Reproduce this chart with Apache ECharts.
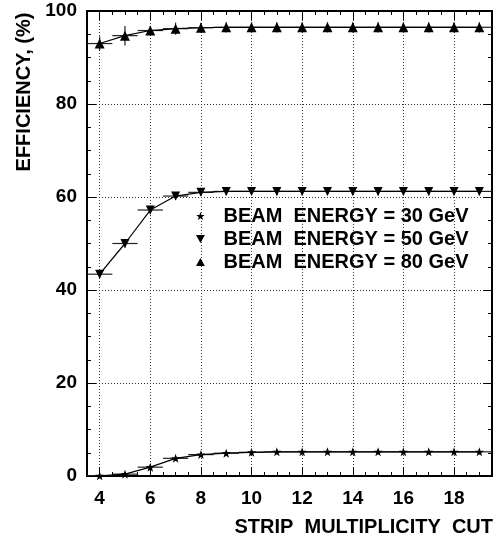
<!DOCTYPE html>
<html>
<head>
<meta charset="utf-8">
<script src="https://cdn.jsdelivr.net/npm/echarts@6/dist/echarts.min.js"></script>
<style>
html,body{margin:0;padding:0;background:#fff;}
#chart{width:497px;height:541px;}
</style>
</head>
<body>
<div id="chart"></div>
<script>
// ---- data ----
const xValues = [4, 5, 6, 7, 8, 9, 10, 11, 12, 13, 14, 15, 16, 17, 18, 19];
const eff30 = [0.05, 0.4, 1.9, 3.8, 4.6, 4.9, 5.1, 5.2, 5.2, 5.2, 5.2, 5.2, 5.2, 5.2, 5.2, 5.2];
const err30 = [0.3, 0.4, 0.5, 0.5, 0.5, 0.5, 0.5, 0.5, 0.5, 0.5, 0.5, 0.5, 0.5, 0.5, 0.5, 0.5];
const eff50 = [43.4, 50.0, 57.2, 60.2, 61.0, 61.2, 61.2, 61.2, 61.2, 61.2, 61.2, 61.2, 61.2, 61.2, 61.2, 61.2];
const err50 = [0.8, 0.9, 0.9, 0.8, 0.8, 0.8, 0.8, 0.8, 0.8, 0.8, 0.8, 0.8, 0.8, 0.8, 0.8, 0.8];
const eff80 = [93.0, 94.7, 95.8, 96.2, 96.4, 96.5, 96.5, 96.5, 96.5, 96.5, 96.5, 96.5, 96.5, 96.5, 96.5, 96.5];
const err80 = [1.5, 2.1, 1.0, 1.3, 1.1, 1.1, 1.1, 1.1, 1.1, 1.1, 1.1, 1.1, 1.1, 1.1, 1.1, 1.1];
const xHalfWidth = 0.5;
const xTickValues = [4, 6, 8, 10, 12, 14, 16, 18];
const seriesNames = ['BEAM  ENERGY = 30 GeV', 'BEAM  ENERGY = 50 GeV', 'BEAM  ENERGY = 80 GeV'];
const xTitle = 'STRIP  MULTIPLICITY  CUT';
const yTitle = 'EFFICIENCY, (%)';

// ---- styling ----
const FONT = '"Liberation Sans", Arial, Helvetica, sans-serif';
const STAR = 'path://M0,-10 L2.35,-3.24 L9.51,-3.09 L3.8,1.24 L5.88,8.09 L0,4 L-5.88,8.09 L-3.8,1.24 L-9.51,-3.09 L-2.35,-3.24 Z';
const TRI_DOWN = 'path://M0,0 L10,0 L5,9 Z';
const TRI_UP = 'path://M5,0 L10,9 L0,9 Z';

function pairs(ys) { return xValues.map((x, i) => [x, ys[i]]); }
function errTriples(ys, es) { return xValues.map((x, i) => [x, ys[i], es[i]]); }

function renderErr(params, api) {
  const x = api.value(0), y = api.value(1), e = api.value(2);
  const a = api.coord([x - xHalfWidth, y]);
  const b = api.coord([x + xHalfWidth, y]);
  const c = api.coord([x, y - e]);
  const d = api.coord([x, y + e]);
  const st = { stroke: '#222', lineWidth: 1.2 };
  return {
    type: 'group',
    children: [
      { type: 'line', shape: { x1: a[0], y1: a[1], x2: b[0], y2: b[1] }, style: st },
      { type: 'line', shape: { x1: c[0], y1: c[1], x2: d[0], y2: d[1] }, style: st }
    ]
  };
}

const gridLine = { show: true, lineStyle: { color: '#333', type: [1, 2], width: 1 } };
const axisLineStyle = { show: true, lineStyle: { color: '#000', width: 2 } };

function xAxisBase(pos) {
  return { type: 'value', min: 3.5, max: 19.5, position: pos, axisLine: axisLineStyle };
}

const option = {
  animation: false,
  backgroundColor: '#fff',
  grid: { left: 87, right: 5, top: 11, bottom: 65, containLabel: false },
  legend: {
    data: [
      { name: seriesNames[0], icon: STAR },
      { name: seriesNames[1], icon: TRI_DOWN },
      { name: seriesNames[2], icon: TRI_UP }
    ],
    orient: 'vertical', left: 191, top: 201,
    itemWidth: 36, itemHeight: 8, itemGap: 3,
    selectedMode: false,
    textStyle: { fontSize: 20, fontWeight: 'bold', color: '#000', fontFamily: FONT }
  },
  xAxis: [
    Object.assign(xAxisBase('bottom'), {
      axisTick: { show: true, inside: true, length: 9, lineStyle: { color: '#000', width: 1 }, customValues: xTickValues },
      axisLabel: { show: true, customValues: xTickValues, margin: 13, fontSize: 19, fontWeight: 'bold', color: '#000', fontFamily: FONT },
      splitLine: gridLine
    }),
    Object.assign(xAxisBase('bottom'), {
      interval: 0.5,
      axisLine: { show: false },
      axisTick: { show: true, inside: true, length: 4, lineStyle: { color: '#000', width: 1 } },
      axisLabel: { show: false },
      splitLine: { show: false }
    }),
    Object.assign(xAxisBase('top'), {
      axisTick: { show: true, inside: true, length: 9, lineStyle: { color: '#000', width: 1 }, customValues: xTickValues },
      axisLabel: { show: false, customValues: xTickValues },
      splitLine: { show: false }
    }),
    Object.assign(xAxisBase('top'), {
      interval: 0.5,
      axisLine: { show: false },
      axisTick: { show: true, inside: true, length: 4, lineStyle: { color: '#000', width: 1 } },
      axisLabel: { show: false },
      splitLine: { show: false }
    })
  ],
  yAxis: [
    {
      type: 'value', min: 0, max: 100, interval: 20, position: 'left',
      axisLine: axisLineStyle,
      axisTick: { show: true, inside: true, length: 9, lineStyle: { color: '#000', width: 1 } },
      minorTick: { show: true, splitNumber: 4, length: 4, lineStyle: { color: '#000', width: 1 } },
      axisLabel: { margin: 10, fontSize: 19, fontWeight: 'bold', color: '#000', fontFamily: FONT },
      splitLine: gridLine
    },
    {
      type: 'value', min: 0, max: 100, interval: 20, position: 'right',
      axisLine: axisLineStyle,
      axisTick: { show: true, inside: true, length: 9, lineStyle: { color: '#000', width: 1 } },
      minorTick: { show: true, splitNumber: 4, length: 4, lineStyle: { color: '#000', width: 1 } },
      axisLabel: { show: false },
      splitLine: { show: false }
    }
  ],
  graphic: [
    { type: 'text', x: 24, y: 92, rotation: Math.PI / 2,
      style: { text: yTitle, fontSize: 20, fontWeight: 'bold', fontFamily: FONT, fill: '#000', align: 'center', verticalAlign: 'middle' } },
    { type: 'text', x: 493, y: 527,
      style: { text: xTitle, fontSize: 20, fontWeight: 'bold', fontFamily: FONT, fill: '#000', align: 'right', verticalAlign: 'middle' } }
  ],
  series: [
    { type: 'custom', name: 'err30', data: errTriples(eff30, err30), renderItem: renderErr, clip: true, encode: { x: 0, y: 1 }, silent: true, z: 2 },
    { type: 'custom', name: 'err50', data: errTriples(eff50, err50), renderItem: renderErr, clip: true, encode: { x: 0, y: 1 }, silent: true, z: 2 },
    { type: 'custom', name: 'err80', data: errTriples(eff80, err80), renderItem: renderErr, clip: true, encode: { x: 0, y: 1 }, silent: true, z: 2 },
    { type: 'line', name: seriesNames[0], data: pairs(eff30), symbol: STAR, symbolSize: 9,
      lineStyle: { color: '#000', width: 1.2 }, itemStyle: { color: '#000' }, z: 3 },
    { type: 'line', name: seriesNames[1], data: pairs(eff50), symbol: TRI_DOWN, symbolSize: 9,
      lineStyle: { color: '#000', width: 1.2 }, itemStyle: { color: '#000' }, z: 3 },
    { type: 'line', name: seriesNames[2], data: pairs(eff80), symbol: TRI_UP, symbolSize: 10,
      lineStyle: { color: '#000', width: 1.2 }, itemStyle: { color: '#000' }, z: 3 }
  ]
};

const chart = echarts.init(document.getElementById('chart'), null, { renderer: 'canvas' });
chart.setOption(option);
</script>
</body>
</html>
